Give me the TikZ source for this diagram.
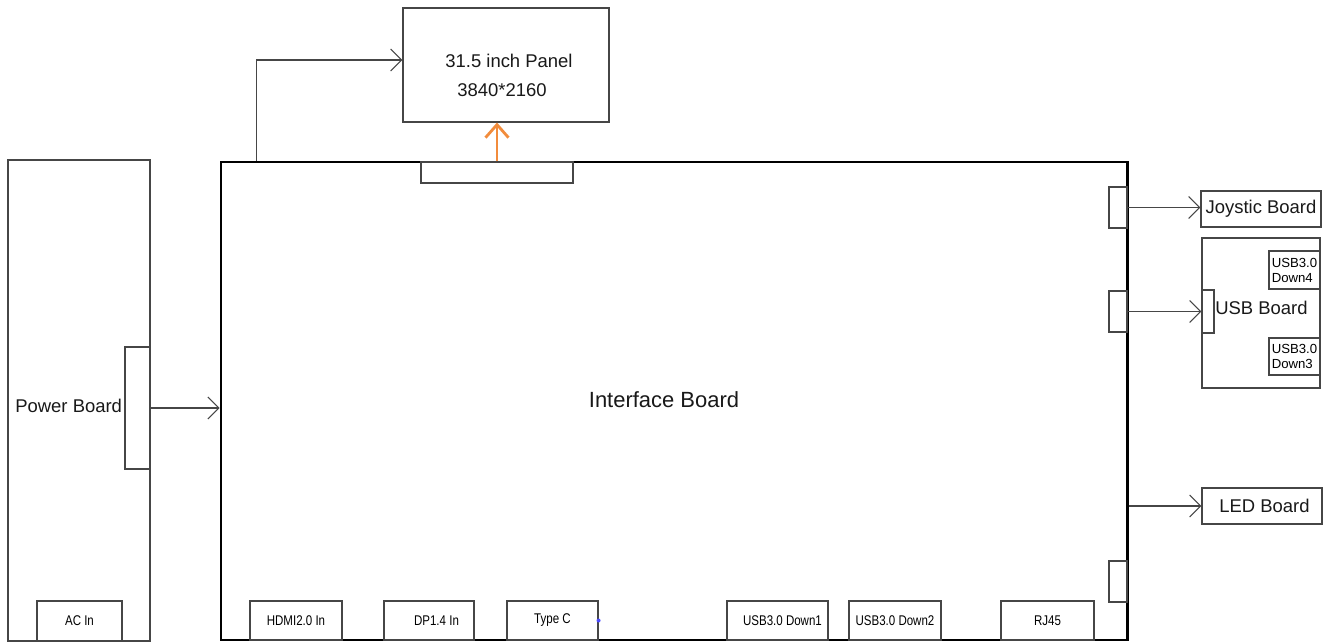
\documentclass[tikz,border=0pt]{standalone}
\usepackage{fontspec}
\setmainfont{Liberation Sans}
\newfontfamily\narrowfont[FakeStretch=0.82]{Liberation Sans}
\usepackage{tikz}
\usetikzlibrary{arrows.meta}
\definecolor{linegray}{RGB}{70,70,70}
\definecolor{panelorange}{RGB}{242,140,60}
\tikzstyle{board} = [rectangle, draw=linegray, line width=0.6pt, fill=white, inner sep=0pt]
\tikzstyle{port} = [rectangle, draw=linegray, line width=0.6pt, inner sep=0pt, font=\narrowfont\fontsize{8}{9}\selectfont]
\tikzstyle{label} = [font=\fontsize{10.5}{13}\selectfont, text=black!90, inner sep=0pt]
\tikzstyle{arrow} = [line width=0.6pt, draw=linegray, -{Straight Barb[length=0.22cm, width=0.44cm]}]

\begin{document}
\begin{tikzpicture}
    \useasboundingbox (0,0) rectangle (26.66,12.86);
    % panel and interface board
    \node (panel) [board, minimum width=4.12cm, minimum height=2.28cm] at (10.12,11.56) {};
    \node (paneltxt) [label] at (10.18,11.64) {31.5 inch Panel};
    \node (panelres) [label] at (10.04,11.06) {3840*2160};
    \node (iface) [board, draw=black, line width=1.7pt, minimum width=18.12cm, minimum height=9.56cm] at (13.48,4.84) {};
    \node (ifacetxt) [label, font=\fontsize{12.5}{15}\selectfont] at (13.28,4.86) {Interface Board};
    \node (topconn) [board, minimum width=3.04cm, minimum height=0.42cm] at (9.94,9.41) {};
    % power board
    \node (power) [board, minimum width=2.84cm, minimum height=9.62cm] at (1.58,4.85) {};
    \node (powertxt) [label, anchor=west] at (0.3,4.74) {Power Board};
    \node (pconn) [board, minimum width=0.5cm, minimum height=2.44cm] at (2.75,4.7) {};
    \node (acin) [port, minimum width=1.7cm, minimum height=0.8cm] at (1.59,0.44) {AC In};
    % ports along the bottom
    \node (hdmi) [port, minimum width=1.84cm, minimum height=0.78cm] at (5.92,0.45) {HDMI2.0 In\hspace{0.2cm}};
    \node (dp) [port, minimum width=1.8cm, minimum height=0.78cm] at (8.58,0.45) {\hspace{0.3cm}DP1.4 In};
    \node (typec) [port, minimum width=1.82cm, minimum height=0.78cm] at (11.05,0.45) {Type C};
    \node (down1) [port, minimum width=2.02cm, minimum height=0.78cm] at (15.55,0.45) {\hspace{0.2cm}USB3.0 Down1};
    \node (down2) [port, minimum width=1.84cm, minimum height=0.78cm] at (17.9,0.45) {USB3.0 Down2};
    \node (rj45) [port, minimum width=1.86cm, minimum height=0.78cm] at (20.95,0.45) {\raisebox{-3pt}{RJ45}};
    \fill [blue!70] (typec.east) circle (0.04);
    % connectors on the right edge
    \node (jconn) [board, minimum width=0.36cm, minimum height=0.82cm] at (22.36,8.71) {};
    \node (uconn) [board, minimum width=0.36cm, minimum height=0.82cm] at (22.36,6.63) {};
    \node (lconn) [board, minimum width=0.36cm, minimum height=0.82cm] at (22.36,1.23) {};
    % boards on the right
    \node (joy) [board, label, draw=linegray, minimum width=2.4cm, minimum height=0.72cm] at (25.22,8.68) {Joystic Board};
    \node (usb) [board, minimum width=2.36cm, minimum height=3cm] at (25.22,6.6) {};
    \node (usbin) [board, minimum width=0.24cm, minimum height=0.86cm] at (24.16,6.63) {};
    \node (usbtxt) [label] at (25.23,6.7) {USB Board};
    \node (down4) [board, align=left, font=\fontsize{7.5}{8.5}\selectfont, minimum width=1.02cm, minimum height=0.76cm] at (25.89,7.46) {USB3.0\\Down4};
    \node (down3) [board, align=left, font=\fontsize{7.5}{8.5}\selectfont, minimum width=1.02cm, minimum height=0.74cm] at (25.89,5.73) {USB3.0\\Down3};
    \node (led) [board, label, draw=linegray, minimum width=2.4cm, minimum height=0.72cm] at (25.24,2.74) {\hspace{0.1cm}LED Board};

    \draw [line width=1.6pt, draw=panelorange, -{Straight Barb[length=0.26cm, width=0.46cm]}] (topconn.north) -- (topconn.north |- panel.south);
    \draw [arrow] ([xshift=0.74cm]iface.north west) |- ([yshift=0.1cm]panel.west);
    \draw [arrow] (pconn.east) -- (pconn.east -| iface.west);
    \draw [arrow] (jconn.east) -- (jconn.east -| joy.west);
    \draw [arrow] (uconn.east) -- (uconn.east -| usbin.west);
    \draw [arrow] (led.west -| iface.east) -- (led.west);
\end{tikzpicture}
\end{document}
